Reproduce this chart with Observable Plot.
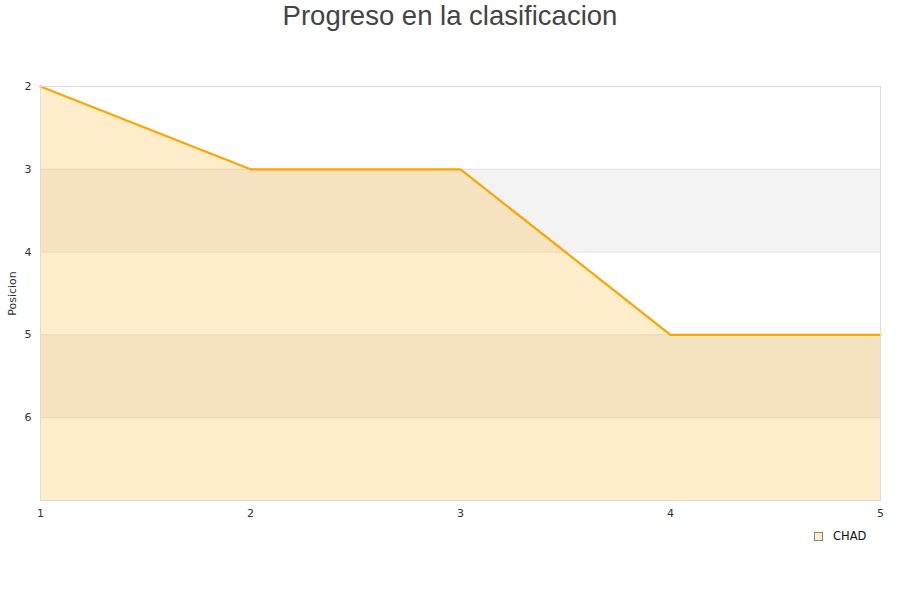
<!DOCTYPE html>
<html>
<head>
<meta charset="utf-8">
<script src="https://cdn.jsdelivr.net/npm/d3@7"></script>
<script src="https://cdn.jsdelivr.net/npm/@observablehq/plot@0.6"></script>
<style>
  html, body { margin: 0; padding: 0; background: #fff; }
  #wrap { position: relative; width: 900px; height: 600px; overflow: hidden; }
  #title { position: absolute; left: 0; top: 0; width: 900px; text-align: center;
           font-family: "Liberation Sans", Arial, sans-serif; font-size: 27.5px; color: #444; line-height: 32px; }
  #legend { position: absolute; left: 814px; top: 529px; font-family: "DejaVu Sans", sans-serif;
            font-size: 11.5px; color: #111; display: flex; align-items: center; }
  #legend .sw { width: 7px; height: 7px; background: #ffedcc; border: 1px solid #888; margin-right: 10px; }
  #chart { position: absolute; left: 0; top: 0; }
</style>
</head>
<body>
<div id="wrap">
  <div id="chart"></div>
  <div id="title"></div>
  <div id="legend"><div class="sw"></div><span id="legtext"></span></div>
</div>
<script>
const title = "Progreso en la clasificacion";
const seriesName = "CHAD";
const rounds = [1, 2, 3, 4, 5];
const positions = [2, 3, 3, 5, 5];
const yTicks = [2, 3, 4, 5, 6];
const bands = [[3, 4], [5, 6]];

document.getElementById("title").textContent = title;
document.getElementById("legtext").textContent = seriesName;

const data = rounds.map((r, i) => ({round: r, pos: positions[i]}));
const bandData = bands.map(([a, b]) => ({y1: a, y2: b}));

const chart = Plot.plot({
  width: 900,
  height: 600,
  marginTop: 86,
  marginBottom: 100,
  marginLeft: 40,
  marginRight: 20,
  style: {fontFamily: "DejaVu Sans, sans-serif", fontSize: "11px", color: "#333", background: "white"},
  x: {domain: [1, 5]},
  y: {domain: [2, 7], reverse: true},
  marks: [
    Plot.rect(bandData, {y1: "y1", y2: "y2", fill: "#f3f3f3"}),
    Plot.ruleY([3, 4, 5, 6], {stroke: "#e2e2e2", strokeWidth: 1}),
    Plot.areaY(data, {x: "round", y1: 7, y2: "pos", fill: "#ffa500", fillOpacity: 0.2}),
    Plot.lineY(data, {x: "round", y: "pos", stroke: "#ffa500", strokeWidth: 2.2}),
    Plot.frame({stroke: "#dcdcdc"}),
    Plot.axisY({ticks: yTicks, tickSize: 0, tickPadding: 9, tickFormat: d => String(d),
      label: "Posicion", labelAnchor: "center", labelArrow: "none", labelOffset: 32, fill: "#333"}),
    Plot.axisX({ticks: rounds, tickSize: 0, tickPadding: 9, tickFormat: d => String(d), label: null, fill: "#333"})
  ]
});
document.getElementById("chart").appendChild(chart);
</script>
</body>
</html>
